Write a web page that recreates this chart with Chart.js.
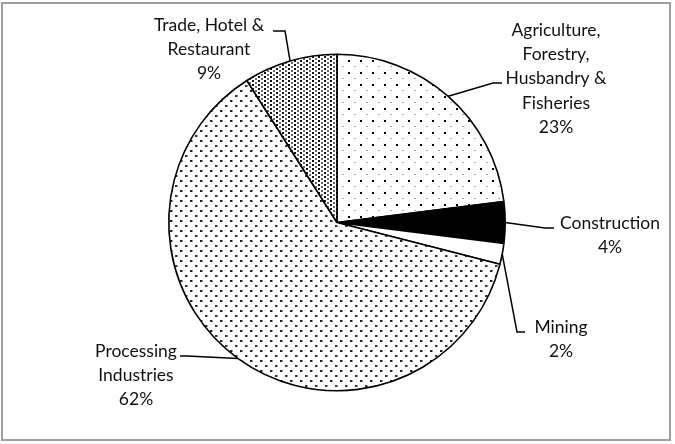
<!DOCTYPE html>
<html>
<head>
<meta charset="utf-8">
<script src="https://cdn.jsdelivr.net/npm/chart.js@4/dist/chart.umd.min.js"></script>
<style>
  html, body { margin: 0; padding: 0; background: #fff; }
  #wrap { width: 675px; height: 444px; }
</style>
</head>
<body>
<div id="wrap"><canvas id="pie" width="675" height="444"></canvas></div>
<script>
const sectors = ["Agriculture, Forestry, Husbandry & Fisheries", "Construction", "Mining", "Processing Industries", "Trade, Hotel & Restaurant"];
const shares = [23, 4, 2, 62, 9];
const labelLines = [
  ["Agriculture,", "Forestry,", "Husbandry &", "Fisheries"],
  ["Construction"],
  ["Mining"],
  ["Processing", "Industries"],
  ["Trade, Hotel &", "Restaurant"]
];

// label placement: text centre x, first line y, elbow point, horizontal end
const labelPos = [
  { x: 556, y: 30, elbow: [493, 83], end: [502, 83] },
  { x: 610, y: 223, elbow: [545, 228], end: [554, 228] },
  { x: 561, y: 327, elbow: [517, 332], end: [525, 332] },
  { x: 136, y: 351, elbow: [187, 356], end: [180, 356] },
  { x: 209, y: 25, elbow: [285, 31], end: [273, 31] }
];
const LINE_H = 24.3;

function makePattern(w, h, draw) {
  const c = document.createElement("canvas");
  c.width = w; c.height = h;
  const g = c.getContext("2d");
  g.fillStyle = "#fff";
  g.fillRect(0, 0, w, h);
  draw(g);
  return document.getElementById("pie").getContext("2d").createPattern(c, "repeat");
}

const sparseDots = makePattern(12, 12, g => {
  g.fillStyle = "#000"; g.fillRect(0, 0, 2, 2);
  g.fillStyle = "#aaa"; g.fillRect(6, 6, 2, 1);
});
const denseDots = makePattern(10, 10, g => {
  g.fillStyle = "#222"; g.fillRect(0, 0, 2, 2);
  g.fillStyle = "#999"; g.fillRect(2, 0, 1, 2);
  g.fillStyle = "#333"; g.fillRect(5, 5, 2, 2);
  g.fillStyle = "#999"; g.fillRect(7, 5, 1, 2);
});
const columnDots = makePattern(6, 4, g => {
  g.fillStyle = "#111"; g.fillRect(0, 0, 2, 2);
  g.fillStyle = "#666"; g.fillRect(3, 2, 2, 2);
});

const fills = [sparseDots, "#000", "#fff", denseDots, columnDots];

const frameAndLabels = {
  id: "frameAndLabels",
  beforeDraw(chart) {
    const ctx = chart.ctx;
    ctx.save();
    ctx.strokeStyle = "#9e9e9e";
    ctx.lineWidth = 2;
    ctx.strokeRect(2, 3, 668, 437);
    ctx.restore();
  },
  afterDraw(chart) {
    const ctx = chart.ctx;
    const meta = chart.getDatasetMeta(0);
    const total = shares.reduce((a, b) => a + b, 0);
    ctx.save();
    meta.data.forEach((arc, i) => {
      const p = arc.getProps(["x", "y", "startAngle", "endAngle", "outerRadius"], true);
      const mid = (p.startAngle + p.endAngle) / 2;
      const sx = p.x + Math.cos(mid) * p.outerRadius;
      const sy = p.y + Math.sin(mid) * p.outerRadius;
      const pos = labelPos[i];
      ctx.strokeStyle = "#000";
      ctx.lineWidth = 1.5;
      ctx.beginPath();
      ctx.moveTo(sx, sy);
      ctx.lineTo(pos.elbow[0], pos.elbow[1]);
      ctx.lineTo(pos.end[0], pos.end[1]);
      ctx.stroke();

      const lines = labelLines[i].concat([Math.round(shares[i] / total * 100) + "%"]);
      ctx.fillStyle = "#111";
      ctx.font = "17.5px Lato";
      ctx.textAlign = "center";
      ctx.textBaseline = "middle";
      lines.forEach((t, k) => ctx.fillText(t, pos.x, pos.y + k * LINE_H));
    });
    ctx.restore();
  }
};

new Chart(document.getElementById("pie"), {
  type: "pie",
  data: {
    labels: sectors,
    datasets: [{
      data: shares,
      backgroundColor: fills,
      borderColor: "#000",
      borderWidth: 1.6
    }]
  },
  options: {
    responsive: false,
    animation: false,
    events: [],
    layout: { padding: { left: 168, right: 169, top: 53, bottom: 52 } },
    plugins: { legend: { display: false }, tooltip: { enabled: false } }
  },
  plugins: [frameAndLabels]
});
</script>
</body>
</html>
